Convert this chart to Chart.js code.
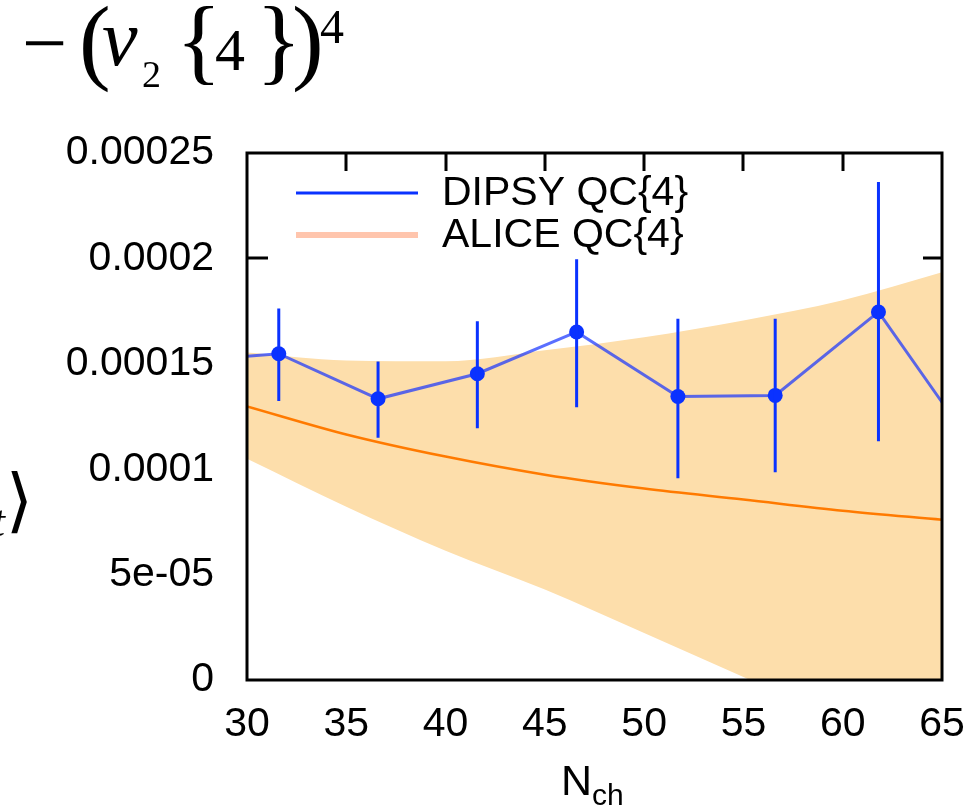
<!DOCTYPE html>
<html>
<head>
<meta charset="utf-8">
<script src="https://cdn.jsdelivr.net/npm/chart.js@4.4.1/dist/chart.umd.min.js"></script>
<style>
  html, body { margin: 0; padding: 0; background: #ffffff; }
  #wrap { width: 979px; height: 807px; }
</style>
</head>
<body>
<div id="wrap"><canvas id="mychart" width="979" height="807"></canvas></div>
<script>
// ALICE QC{4} band (central value and upper/lower edges)
const aliceN = [30, 35, 40, 45, 50, 55, 60, 65];
const aliceCentral = [0.0001298, 0.0001165, 0.0001060, 0.0000974, 0.0000908, 0.0000856, 0.0000803, 0.0000760];
const aliceUpper = [0.0001554, 0.0001516, 0.0001512, 0.0001564, 0.0001626, 0.0001706, 0.0001801, 0.0001934];
const aliceLower = [0.0001049, 0.0000822, 0.0000613, 0.0000429, 0.0000223, 0.0000014, -0.0000195, -0.0000404];

// DIPSY QC{4} points with error bars
const dipsyN = [26.6, 31.6, 36.6, 41.6, 46.6, 51.7, 56.6, 61.8, 66.7];
const dipsyQC4 = [0.000151, 0.0001548, 0.0001334, 0.0001453, 0.0001651, 0.0001345, 0.000135, 0.0001746, 0.000109];
const dipsyErrLow = [0.000130, 0.0001323, 0.0001149, 0.0001194, 0.0001294, 0.0000957, 0.0000985, 0.0001133, 0.00007];
const dipsyErrHigh = [0.000172, 0.0001762, 0.0001511, 0.0001702, 0.0001996, 0.0001714, 0.0001714, 0.0002362, 0.00015];

// axes
const xMin = 30, xMax = 65, xStep = 5;
const yMin = 0, yMax = 0.00025, yStep = 0.00005;
const yTickLabels = ['0', '5e-05', '0.0001', '0.00015', '0.0002', '0.00025'];
const yTickMarks = [0.0002];

const blue = '#0a32ff';
const orange = '#ff7a00';
const bandColor = '#fddeab';
const aliceKeyColor = '#ffc5ad';
const tickFont = '41px "Liberation Sans", Arial, sans-serif';

const pts = (xs, ys) => xs.map((x, i) => ({ x: x, y: ys[i] }));

const ctx = document.getElementById('mychart');

// frame and inward tick marks (gnuplot style)
const pluginFrame = {
    id: 'frame',
    beforeDatasetsDraw: (chart) => {
        const c = chart.ctx, a = chart.chartArea;
        const xs = chart.scales.x, ys = chart.scales.y;
        c.save();
        c.strokeStyle = '#000';
        c.lineWidth = 3;
        c.beginPath();
        xs.ticks.forEach(t => {
            if (t.value <= xMin || t.value >= xMax) return;
            const px = Math.round(xs.getPixelForValue(t.value));
            c.moveTo(px, a.top);
            c.lineTo(px, a.top + 18);
        });
        yTickMarks.forEach(v => {
            const py = Math.round(ys.getPixelForValue(v));
            c.moveTo(a.left, py);
            c.lineTo(a.left + 21, py);
            c.moveTo(a.right, py);
            c.lineTo(a.right - 19, py);
        });
        c.stroke();
        c.restore();
    },
    afterDraw: (chart) => {
        const c = chart.ctx, a = chart.chartArea;
        c.save();
        c.strokeStyle = '#000';
        c.lineWidth = 3;
        c.strokeRect(a.left, a.top, a.right - a.left, a.bottom - a.top);
        c.restore();
    }
};

// vertical error bars on the DIPSY points
const pluginErrorBars = {
    id: 'errorBars',
    afterDatasetsDraw: (chart) => {
        const c = chart.ctx, a = chart.chartArea;
        const xs = chart.scales.x, ys = chart.scales.y;
        c.save();
        c.beginPath();
        c.rect(a.left, a.top, a.right - a.left, a.bottom - a.top);
        c.clip();
        c.strokeStyle = blue;
        c.lineWidth = 3;
        c.beginPath();
        dipsyN.forEach((n, i) => {
            const px = xs.getPixelForValue(n);
            c.moveTo(px, ys.getPixelForValue(dipsyErrLow[i]));
            c.lineTo(px, ys.getPixelForValue(dipsyErrHigh[i]));
        });
        c.stroke();
        c.restore();
    }
};

// key inside the plot, plus the axis label pieces
const pluginText = {
    id: 'textBits',
    afterDraw: (chart) => {
        const c = chart.ctx;
        c.save();
        c.textAlign = 'left';
        c.textBaseline = 'middle';
        const keys = [
            { label: chart.data.datasets[0].label, color: blue, width: 3, y: 193 },
            { label: chart.data.datasets[1].label, color: aliceKeyColor, width: 6, y: 235 }
        ];
        keys.forEach(k => {
            c.strokeStyle = k.color;
            c.lineWidth = k.width;
            c.beginPath();
            c.moveTo(296, k.y);
            c.lineTo(418, k.y);
            c.stroke();
            c.fillStyle = '#000';
            c.font = tickFont;
            c.fillText(k.label, 442, k.y + 1);
        });

        // x axis title N_ch
        c.textBaseline = 'alphabetic';
        c.font = '43px "Liberation Sans", Arial, sans-serif';
        c.fillText('N', 561, 795);
        c.font = '30px "Liberation Sans", Arial, sans-serif';
        c.fillText('ch', 592, 805);

        // pieces of the y axis label that reach into the page
        const serif = '"Liberation Serif", "DejaVu Serif", serif';
        c.font = '80px ' + serif;
        c.fillText('\u2212', 22, 70);
        c.font = '95px ' + serif;
        c.fillText('(', 79, 72);
        c.font = 'italic 80px ' + serif;
        c.fillText('v', 102, 65);
        c.font = '38px ' + serif;
        c.fillText('2', 142, 87);
        c.font = '95px ' + serif;
        c.fillText('{', 176, 72);
        c.font = '60px ' + serif;
        c.fillText('4', 215, 70);
        c.font = '95px ' + serif;
        c.fillText('}', 256, 72);
        c.fillText(')', 292, 72);
        c.font = '48px ' + serif;
        c.fillText('4', 320, 43);

        c.textAlign = 'right';
        c.font = 'italic 45px ' + serif;
        c.fillText('t', 5, 536);
        c.font = '70px "DejaVu Sans", sans-serif';
        c.textBaseline = 'middle';
        c.fillText('\u27E9', 33, 506);
        c.restore();
    }
};

// datasets are painted from the last index to the first,
// so the band goes at the end and the DIPSY points at the front
var chart = new Chart(ctx, {
    type: 'line',
    data: {
        datasets: [{
            label: 'DIPSY QC{4}',
            data: pts(dipsyN, dipsyQC4),
            borderColor: 'rgba(20, 50, 255, 0.7)',
            borderWidth: 3,
            pointRadius: 7.5,
            pointBackgroundColor: blue,
            pointBorderWidth: 0,
            fill: false,
            tension: 0
        }, {
            label: 'ALICE QC{4}',
            data: pts(aliceN, aliceCentral),
            borderColor: orange,
            borderWidth: 2.5,
            pointRadius: 0,
            fill: false,
            cubicInterpolationMode: 'monotone'
        }, {
            label: 'ALICE upper',
            data: pts(aliceN, aliceUpper),
            borderWidth: 0,
            pointRadius: 0,
            backgroundColor: bandColor,
            fill: '+1',
            cubicInterpolationMode: 'monotone'
        }, {
            label: 'ALICE lower',
            data: pts(aliceN, aliceLower),
            borderWidth: 0,
            pointRadius: 0,
            fill: false,
            cubicInterpolationMode: 'monotone'
        }]
    },
    options: {
        responsive: false,
        devicePixelRatio: 1,
        animation: false,
        layout: { padding: { top: 153, right: 37, left: 0, bottom: 0 } },
        scales: {
            x: {
                type: 'linear',
                min: xMin,
                max: xMax,
                grid: { display: false },
                border: { display: false },
                ticks: {
                    stepSize: xStep,
                    color: '#000',
                    padding: 12,
                    maxRotation: 0,
                    font: { family: '"Liberation Sans", Arial, sans-serif', size: 41 }
                },
                afterFit: (scale) => { scale.height = 127; }
            },
            y: {
                min: yMin,
                max: yMax,
                grid: { display: false },
                border: { display: false },
                ticks: {
                    stepSize: yStep,
                    color: '#000',
                    padding: 25,
                    font: { family: '"Liberation Sans", Arial, sans-serif', size: 41 },
                    callback: (v) => yTickLabels[Math.round(v / yStep)]
                },
                afterFit: (scale) => { scale.width = 247; }
            }
        },
        plugins: {
            legend: { display: false },
            tooltip: { enabled: false }
        }
    },
    plugins: [pluginFrame, pluginErrorBars, pluginText]
});
</script>
</body>
</html>
